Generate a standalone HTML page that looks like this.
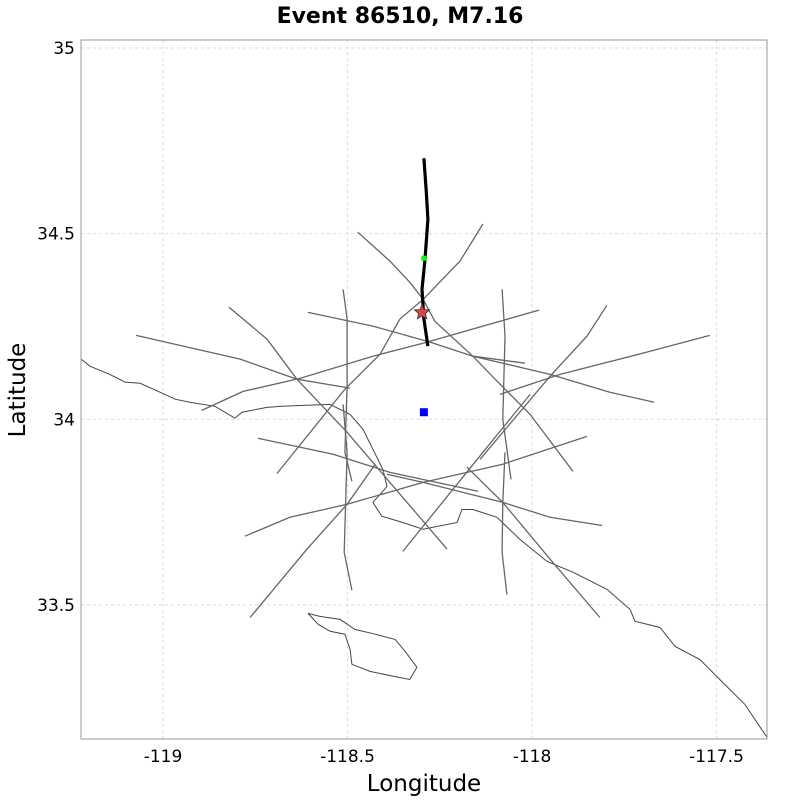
<!DOCTYPE html>
<html><head><meta charset="utf-8">
<style>
html,body{margin:0;padding:0;background:#fff;}
svg{display:block;font-family:"DejaVu Sans","Liberation Sans",sans-serif;}
</style></head>
<body>
<svg id="chart" width="800" height="800" viewBox="0 0 800 800" xmlns="http://www.w3.org/2000/svg">
<rect width="800" height="800" fill="#fff"/>
<text x="400" y="23" text-anchor="middle" font-size="22" font-weight="bold">Event 86510, M7.16</text>
<g id="grid"></g>
<g id="marks"></g>
<rect x="81" y="40" width="686" height="699" fill="none" stroke="#999" stroke-width="1"/>
<g id="ticks"></g>
<text x="424" y="791" text-anchor="middle" font-size="23">Longitude</text>
<text transform="translate(25,390) rotate(-90)" text-anchor="middle" font-size="23">Latitude</text>
</svg>
<script>
const xTicks = [-119, -118.5, -118, -117.5];
const xTickLabels = ["-119", "-118.5", "-118", "-117.5"];
const yTicks = [35, 34.5, 34, 33.5];
const yTickLabels = ["35", "34.5", "34", "33.5"];

const faults = [
 [[-118.472,34.504],[-118.385,34.426],[-118.331,34.369],[-118.295,34.323],[-118.263,34.264],[-118.160,34.170],[-118.100,34.108],[-118.005,34.013],[-117.889,33.860]],
 [[-118.133,34.526],[-118.195,34.426],[-118.295,34.323],[-118.358,34.270],[-118.412,34.175],[-118.507,34.081],[-118.691,33.854]],
 [[-118.607,34.288],[-118.431,34.251],[-118.276,34.208],[-118.160,34.170],[-118.019,34.151]],
 [[-118.895,34.024],[-118.783,34.075],[-118.629,34.110],[-118.431,34.170],[-118.295,34.205],[-117.981,34.294]],
 [[-118.512,34.350],[-118.501,34.270],[-118.501,34.089],[-118.507,33.911],[-118.488,33.833]],
 [[-118.081,34.350],[-118.073,34.224],[-118.079,34.000],[-118.057,33.838]],
 [[-118.512,34.040],[-118.501,33.911],[-118.509,33.642],[-118.488,33.539]],
 [[-118.073,33.911],[-118.079,33.776],[-118.081,33.642],[-118.068,33.528]],
 [[-117.797,34.307],[-117.851,34.224],[-117.951,34.116],[-118.079,33.965],[-118.141,33.892]],
 [[-118.005,34.067],[-118.133,33.911],[-118.350,33.644]],
 [[-118.087,34.067],[-117.924,34.121],[-117.680,34.183],[-117.518,34.226]],
 [[-118.160,34.170],[-117.951,34.121],[-117.789,34.073],[-117.669,34.046]],
 [[-118.743,33.949],[-118.539,33.906],[-118.385,33.857],[-118.146,33.806]],
 [[-118.778,33.685],[-118.656,33.736],[-118.501,33.771],[-118.295,33.830],[-118.079,33.879],[-117.851,33.954]],
 [[-118.393,33.852],[-118.295,33.830],[-118.079,33.776],[-117.951,33.736],[-117.810,33.714]],
 [[-118.425,33.879],[-118.501,33.771],[-118.610,33.650],[-118.764,33.466]],
 [[-118.821,34.302],[-118.718,34.216],[-118.637,34.108],[-118.501,33.965],[-118.385,33.830],[-118.230,33.650]],
 [[-118.176,33.871],[-118.079,33.776],[-117.951,33.623],[-117.816,33.466]],
 [[-119.073,34.226],[-118.791,34.162],[-118.637,34.108],[-118.493,34.084]]
];
const rupture = [[-118.293,34.703],[-118.287,34.620],[-118.282,34.539],[-118.290,34.431],[-118.298,34.350],[-118.293,34.270],[-118.282,34.197]];
const coast = [[-119.222,34.162],[-119.198,34.143],[-119.144,34.121],[-119.103,34.100],[-119.062,34.097],[-119.008,34.073],[-118.967,34.054],[-118.927,34.046],[-118.859,34.035],[-118.805,34.003],[-118.786,34.019],[-118.718,34.032],[-118.678,34.035],[-118.610,34.038],[-118.547,34.040],[-118.493,34.013],[-118.458,33.973],[-118.431,33.919],[-118.404,33.865],[-118.393,33.819],[-118.407,33.803],[-118.431,33.776],[-118.407,33.739],[-118.350,33.722],[-118.295,33.704],[-118.203,33.722],[-118.190,33.757],[-118.160,33.757],[-118.095,33.736],[-118.033,33.677],[-117.959,33.617],[-117.889,33.588],[-117.797,33.542],[-117.734,33.488],[-117.721,33.456],[-117.653,33.439],[-117.612,33.388],[-117.545,33.353],[-117.491,33.299],[-117.423,33.232],[-117.363,33.143]];
const island = [[-118.607,33.477],[-118.575,33.469],[-118.520,33.461],[-118.480,33.434],[-118.425,33.421],[-118.371,33.407],[-118.344,33.375],[-118.312,33.332],[-118.331,33.299],[-118.371,33.307],[-118.439,33.321],[-118.488,33.340],[-118.493,33.380],[-118.507,33.421],[-118.547,33.429],[-118.580,33.448],[-118.607,33.477]];
const hypocenter = [-118.293,34.434];
const epicenter = [-118.298,34.288];
const centroid = [-118.293,34.019];

const X0=-119.2222, X1=-117.3631, Y0=33.1388, Y1=35.0216;
const PL=81, PR=767, PT=40, PB=739;
function sx(v){return PL+(v-X0)/(X1-X0)*(PR-PL);}
function sy(v){return PB-(v-Y0)/(Y1-Y0)*(PB-PT);}
const NS="http://www.w3.org/2000/svg";
function mk(tag,attrs,parent){const e=document.createElementNS(NS,tag);for(const k in attrs)e.setAttribute(k,attrs[k]);parent.appendChild(e);return e;}
const grid=document.getElementById('grid'), marks=document.getElementById('marks'), ticks=document.getElementById('ticks');

xTicks.forEach((v,i)=>{
  const g=mk('line',{x1:sx(v),x2:sx(v),y1:PT,y2:PB,stroke:'#ddd','stroke-dasharray':'3,3'},grid);
  
  
  const t=mk('text',{x:sx(v),y:762,'text-anchor':'middle','font-size':17},ticks);
  t.textContent=xTickLabels[i];
  
  
});
yTicks.forEach((v,i)=>{
  const g=mk('line',{x1:PL,x2:PR,y1:sy(v),y2:sy(v),stroke:'#ddd','stroke-dasharray':'3,3'},grid);
  
  
  const t=mk('text',{x:75,y:sy(v)+6,'text-anchor':'end','font-size':17},ticks);
  t.textContent=yTickLabels[i];
  
  
});
function pts(a){return a.map(p=>sx(p[0]).toFixed(1)+','+sy(p[1]).toFixed(1)).join(' ');}
const c=mk('polyline',{points:pts(coast),fill:'none',stroke:'#444','stroke-width':1},marks);


const is=mk('polyline',{points:pts(island),fill:'none',stroke:'#444','stroke-width':1},marks);


faults.forEach(f=>{
  const l=mk('polyline',{points:pts(f),fill:'none',stroke:'#666','stroke-width':1.3},marks);
  
  
});
const r=mk('polyline',{points:pts(rupture),fill:'none',stroke:'#000','stroke-width':3.2,'stroke-linejoin':'round'},marks);


const h=mk('rect',{x:sx(hypocenter[0])-2.5,y:sy(hypocenter[1])-2.5,width:5,height:5,fill:'#0f0'},marks);


const ex=sx(epicenter[0]), ey=sy(epicenter[1]);
let sp=[];for(let k=0;k<10;k++){const a=-Math.PI/2+k*Math.PI/5;const rr=k%2?3.5:8;sp.push((ex+rr*Math.cos(a)).toFixed(1)+','+(ey+rr*Math.sin(a)).toFixed(1));}
const st=mk('polygon',{points:sp.join(' '),fill:'#d44',stroke:'#333','stroke-width':0.8},marks);


const b=mk('rect',{x:sx(centroid[0])-4,y:sy(centroid[1])-4,width:8,height:8,fill:'#00f'},marks);


</script>
</body></html>
